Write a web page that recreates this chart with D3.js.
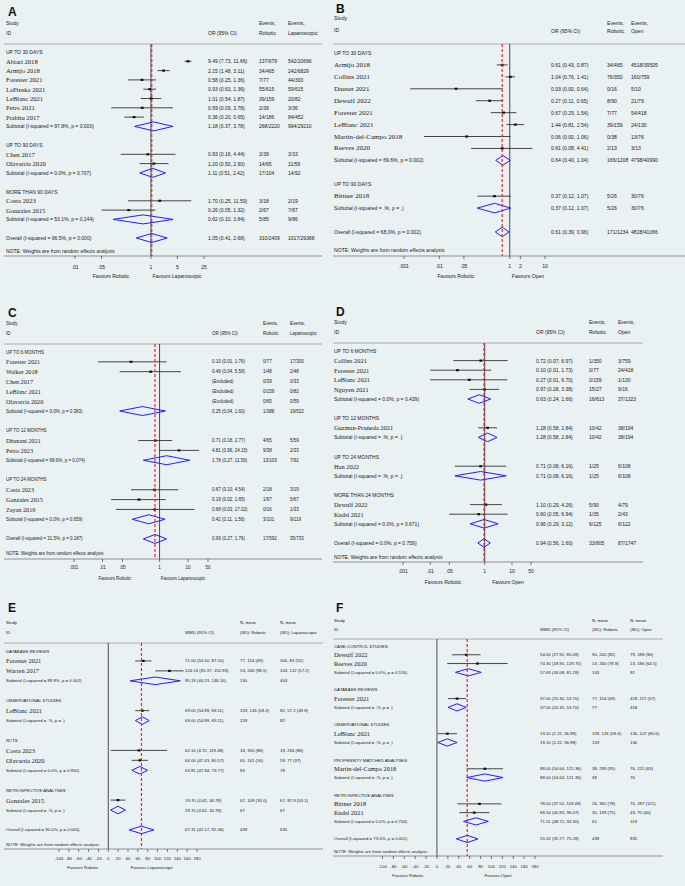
<!DOCTYPE html>
<html>
<head>
<meta charset="utf-8">
<script src="https://cdn.jsdelivr.net/npm/d3@7"></script>
<style>
  body { margin: 0; background: #e9f1f3; }
  svg { display: block; }
</style>
</head>
<body>
<svg id="chart" width="685" height="886"></svg>
<script>
// Row format: [type, label, estimate, lower, upper, column 1, column 2]
// types: g = subgroup heading, s = study, x = excluded study, sub = subtotal, o = overall, b = blank

const rowsA = [
  ["g", "UP TO 30 DAYS"],
  ["s", "Abiari 2018", 9.49, 7.73, 11.66, "137/679", "542/20696"],
  ["s", "Armijo 2018", 2.15, 1.48, 3.11, "34/465", "242/6829"],
  ["s", "Forester 2021", 0.58, 0.25, 1.36, "7/77", "44/300"],
  ["s", "LaPinska 2021", 0.93, 0.63, 1.36, "55/615", "59/615"],
  ["s", "LeBlanc 2021", 1.01, 0.54, 1.87, "39/159", "20/82"],
  ["s", "Petro 2021", 0.59, 0.09, 3.78, "2/39", "3/36"],
  ["s", "Prabhu 2017", 0.36, 0.20, 0.65, "14/186", "84/452"],
  ["sub", "Subtotal  (I-squared = 97.8%, p = 0.000)", 1.18, 0.37, 3.78, "268/2220", "994/29210"],
  ["b"],
  ["g", "UP TO 90 DAYS"],
  ["s", "Chen 2017", 0.83, 0.16, 4.44, "3/39", "3/33"],
  ["s", "Olavarria 2020", 1.20, 0.50, 2.90, "14/65", "11/59"],
  ["sub", "Subtotal  (I-squared = 0.0%, p = 0.707)", 1.11, 0.51, 2.42, "17/104", "14/92"],
  ["b"],
  ["g", "MORE THAN 90 DAYS"],
  ["s", "Costa 2023", 1.70, 0.25, 11.59, "3/18", "2/19"],
  ["s", "Gonzales 2015", 0.26, 0.05, 1.32, "2/67", "7/67"],
  ["sub", "Subtotal  (I-squared = 53.1%, p = 0.144)", 0.62, 0.10, 3.84, "5/85", "9/86"],
  ["b"],
  ["o", "Overall  (I-squared = 96.5%, p = 0.000)", 1.05, 0.41, 2.68, "310/2409", "1017/29388"]
];

const rowsB = [
  ["g", "UP TO 30 DAYS"],
  ["s", "Armijo 2018", 0.61, 0.43, 0.87, "34/465", "4518/39505"],
  ["s", "Collins 2021", 1.04, 0.76, 1.41, "76/350", "160/759"],
  ["s", "Dauser 2021", 0.03, 0.0015, 0.64, "0/16", "5/10"],
  ["s", "Dewulf 2022", 0.27, 0.11, 0.65, "8/90", "21/79"],
  ["s", "Forester 2021", 0.67, 0.29, 1.54, "7/77", "54/418"],
  ["s", "LeBlanc 2021", 1.44, 0.81, 2.54, "39/159", "24/130"],
  ["s", "Martin-del-Campo 2018", 0.06, 0.0037, 1.06, "0/38", "13/76"],
  ["s", "Reeves 2020", 0.61, 0.08, 4.41, "2/13", "3/13"],
  ["sub", "Subtotal  (I-squared = 69.6%, p = 0.002)", 0.64, 0.40, 1.04, "166/1208", "4798/40990"],
  ["b"],
  ["g", "UP TO 90 DAYS"],
  ["s", "Bittner 2018", 0.37, 0.12, 1.07, "5/26", "30/76"],
  ["sub", "Subtotal  (I-squared = .%, p = .)", 0.37, 0.12, 1.07, "5/26", "30/76"],
  ["b"],
  ["o", "Overall  (I-squared = 68.0%, p = 0.002)", 0.61, 0.39, 0.96, "171/1234", "4828/41066"]
];

const rowsC = [
  ["g", "UP TO 6 MONTHS"],
  ["s", "Forester 2021", 0.10, 0.007, 1.76, "0/77", "17/300"],
  ["s", "Walker 2018", 0.49, 0.04, 5.58, "1/48", "2/48"],
  ["x", "Chen 2017", null, null, null, "0/39", "0/33"],
  ["x", "LeBlanc 2021", null, null, null, "0/159", "0/82"],
  ["x", "Olavarria 2020", null, null, null, "0/65", "0/59"],
  ["sub", "Subtotal  (I-squared = 0.0%, p = 0.383)", 0.25, 0.04, 1.60, "1/388", "19/522"],
  ["b"],
  ["g", "UP TO 12 MONTHS"],
  ["s", "Dhanani 2021", 0.71, 0.18, 2.77, "4/65", "5/59"],
  ["s", "Petro 2023", 4.81, 0.96, 24.15, "9/38", "2/33"],
  ["sub", "Subtotal  (I-squared = 68.6%, p = 0.074)", 1.78, 0.27, 11.56, "13/103", "7/92"],
  ["b"],
  ["g", "UP TO 24 MONTHS"],
  ["s", "Costa 2023", 0.67, 0.10, 4.54, "2/18", "3/19"],
  ["s", "Gonzales 2015", 0.19, 0.02, 1.65, "1/67", "5/67"],
  ["s", "Zayan 2019", 0.68, 0.03, 17.02, "0/16", "1/33"],
  ["sub", "Subtotal  (I-squared = 0.0%, p = 0.659)", 0.42, 0.11, 1.56, "3/101", "9/119"],
  ["b"],
  ["o", "Overall  (I-squared = 31.5%, p = 0.187)", 0.69, 0.27, 1.76, "17/592", "35/733"]
];

const rowsD = [
  ["g", "UP TO 6 MONTHS"],
  ["s", "Collins 2021", 0.72, 0.07, 6.97, "1/350", "3/759"],
  ["s", "Forester 2021", 0.10, 0.01, 1.73, "0/77", "24/418"],
  ["s", "LeBlanc 2021", 0.27, 0.01, 6.70, "0/159", "1/130"],
  ["s", "Nguyen 2021", 0.97, 0.28, 3.38, "15/27", "9/16"],
  ["sub", "Subtotal  (I-squared = 0.0%, p = 0.439)", 0.63, 0.24, 1.66, "16/613", "37/1323"],
  ["b"],
  ["g", "UP TO 12 MONTHS"],
  ["s", "Guzman-Pruneda 2021", 1.28, 0.58, 2.84, "10/42", "38/194"],
  ["sub", "Subtotal  (I-squared = .%, p = .)", 1.28, 0.58, 2.84, "10/42", "38/194"],
  ["b"],
  ["g", "UP TO 24 MONTHS"],
  ["s", "Han 2022", 0.71, 0.08, 6.16, "1/25", "6/108"],
  ["sub", "Subtotal  (I-squared = .%, p = .)", 0.71, 0.08, 6.16, "1/25", "6/108"],
  ["b"],
  ["g", "MORE THAN 24 MONTHS"],
  ["s", "Dewulf 2022", 1.10, 0.29, 4.26, "5/90", "4/79"],
  ["s", "Kudsi 2021", 0.60, 0.05, 6.94, "1/35", "2/43"],
  ["sub", "Subtotal  (I-squared = 0.0%, p = 0.671)", 0.96, 0.29, 3.12, "6/125", "6/122"],
  ["b"],
  ["o", "Overall  (I-squared = 0.0%, p = 0.759)", 0.94, 0.56, 1.60, "33/805", "87/1747"]
];

const rowsE = [
  ["g", "DATABASE REVIEWS"],
  ["s", "Forester 2021", 71.00, 54.50, 87.50, "77, 154 (69)", "300, 83 (52)"],
  ["s", "Warren 2017", 124.16, 95.37, 152.83, "53, 246 (98.5)", "103, 122 (57.2)"],
  ["sub", "Subtotal  (I-squared = 89.8%, p = 0.002)", 95.19, 44.23, 146.16, "130", "403"],
  ["b"],
  ["g", "OBSERVATIONAL STUDIES"],
  ["s", "LeBlanc 2021", 69.00, 54.89, 83.11, "159, 126 (58.4)", "82, 57.2 (49.8)"],
  ["sub", "Subtotal  (I-squared = .%, p = .)", 69.00, 54.89, 83.11, "159", "82"],
  ["b"],
  ["g", "RCTS"],
  ["s", "Costa 2023", 62.10, 4.72, 119.48, "18, 356 (88)", "19, 294 (88)"],
  ["s", "Olavarria 2020", 64.00, 47.43, 80.57, "65, 141 (56)", "59, 77 (37)"],
  ["sub", "Subtotal  (I-squared = 0.0%, p = 0.950)", 63.85, 47.94, 79.77, "83", "78"],
  ["b"],
  ["g", "RETROSPECTIVE ANALYSES"],
  ["s", "Gonzales 2015", 19.70, 4.62, 34.78, "67, 108 (33.0)", "67, 87.9 (53.1)"],
  ["sub", "Subtotal  (I-squared = .%, p = .)", 19.70, 4.62, 34.78, "67", "67"],
  ["b"],
  ["o", "Overall  (I-squared = 90.0%, p = 0.000)", 67.31, 42.17, 92.46, "439", "630"]
];

const rowsF = [
  ["g", "CASE-CONTROL STUDIES"],
  ["s", "Dewulf 2022", 54.00, 27.91, 80.09, "90, 242 (82)", "79, 188 (90)"],
  ["s", "Reeves 2020", 74.30, 18.90, 129.70, "13, 260 (78.8)", "13, 186 (64.5)"],
  ["sub", "Subtotal  (I-squared = 0.0%, p = 0.516)", 57.69, 34.08, 81.29, "103", "92"],
  ["b"],
  ["g", "DATABASE REVIEWS"],
  ["s", "Forester 2021", 37.00, 20.30, 53.70, "77, 154 (69)", "418, 117 (67)"],
  ["sub", "Subtotal  (I-squared = .%, p = .)", 37.00, 20.30, 53.70, "77", "418"],
  ["b"],
  ["g", "OBSERVATIONAL STUDIES"],
  ["s", "LeBlanc 2021", 19.10, 1.22, 36.98, "159, 126 (58.4)", "130, 107 (80.6)"],
  ["sub", "Subtotal  (I-squared = .%, p = .)", 19.10, 1.22, 36.98, "159", "130"],
  ["b"],
  ["g", "PROPENSITY MATCHED ANALYSES"],
  ["s", "Martin-del-Campo 2018", 88.00, 54.64, 121.36, "38, 299 (95)", "76, 211 (63)"],
  ["sub", "Subtotal  (I-squared = .%, p = .)", 88.00, 54.64, 121.36, "38", "76"],
  ["b"],
  ["g", "RETROSPECTIVE ANALYSES"],
  ["s", "Bittner 2018", 78.00, 37.52, 118.48, "26, 365 (78)", "76, 287 (121)"],
  ["s", "Kudsi 2021", 68.50, 40.93, 96.07, "35, 139 (75)", "43, 70 (40)"],
  ["sub", "Subtotal  (I-squared = 0.0%, p = 0.704)", 71.51, 48.72, 94.30, "61", "119"],
  ["b"],
  ["o", "Overall  (I-squared = 73.0%, p = 0.001)", 55.52, 35.77, 75.28, "438", "835"]
];

const ticksA = [0.01, 0.05, 1, 5, 25];
const tickLabelsA = [".01", ".05", "1", "5", "25"];
const ticksB = [0.001, 0.01, 0.05, 1, 2, 10];
const tickLabelsB = [".001", ".01", ".05", "1", "2", "10"];
const ticksCD = [0.001, 0.01, 0.05, 1, 10, 50];
const tickLabelsCD = [".001", ".01", ".05", "1", "10", "50"];
const ticksWMD = [-100, -80, -60, -40, -20, 0, 20, 40, 60, 80, 100, 120, 140, 160, 180];
const tickLabelsWMD = ["-100", "-80", "-60", "-40", "-20", "0", "20", "40", "60", "80", "100", "120", "140", "160", "180"];

const SANS = "'Liberation Sans', Arial, sans-serif";
const SERIF = "'Liberation Serif', 'Times New Roman', serif";

const panels = [
  { letter: "A", rows: rowsA, log: true, domain: [0.01, 25], range: [75, 204], ticks: ticksA, tickLabels: tickLabelsA,
    x0: 4, x1: 322, textX: 6, letterY: 16, studyY: 23, idY: 33, colTopY: 23, colBotY: 33,
    estX: 208, c1X: 259, c2X: 288, headLab: ["OR (95% CI)", "Events,", "Robotic", "Events,", "Laparoscopic"],
    headerY: 44, rowTop: 52, step: 9.3, axisY: 256, noteY: 251, tickY: 267, favY: 276,
    favL: ["Favours Robotic", 111], favR: ["Favours Laparoscopic", 177], fs: 5, serifFs: 6.6, dh: 4.5 },
  { letter: "B", rows: rowsB, log: true, domain: [0.001, 10], range: [404, 545], ticks: ticksB, tickLabels: tickLabelsB,
    x0: 333, x1: 685, textX: 334, letterY: 13, studyY: 18, idY: 30, colTopY: 23, colBotY: 31,
    estX: 551, c1X: 607, c2X: 631, headLab: ["OR (95% CI)", "Events,", "Robotic", "Events,", "Open"],
    headerY: 44, rowTop: 53, step: 11.93, axisY: 256, noteY: 250, tickY: 266, favY: 276,
    favL: ["Favours Robotic", 456], favR: ["Favours Open", 528], fs: 5.1, serifFs: 7, dh: 4.8 },
  { letter: "C", rows: rowsC, log: true, domain: [0.001, 50], range: [74, 208], ticks: ticksCD, tickLabels: tickLabelsCD,
    x0: 4, x1: 322, textX: 6, letterY: 317, studyY: 323, idY: 333, colTopY: 323, colBotY: 333,
    estX: 212, c1X: 263, c2X: 290, headLab: ["OR (95% CI)", "Events,", "Robotic", "Events,", "Laparoscopic"],
    headerY: 344, rowTop: 352, step: 9.84, axisY: 559, noteY: 553, tickY: 567, favY: 578,
    favL: ["Favours Robotic", 115], favR: ["Favours Laparoscopic", 183], fs: 4.5, serifFs: 6.2, dh: 4.5 },
  { letter: "D", rows: rowsD, log: true, domain: [0.001, 50], range: [403, 531], ticks: ticksCD, tickLabels: tickLabelsCD,
    x0: 333, x1: 643, textX: 334, letterY: 316, studyY: 322, idY: 332, colTopY: 322, colBotY: 332,
    estX: 536, c1X: 589, c2X: 618, headLab: ["OR (95% CI)", "Events,", "Robotic", "Events,", "Open"],
    headerY: 343, rowTop: 351, step: 9.6, axisY: 562, noteY: 557, tickY: 571, favY: 582,
    favL: ["Favours Robotic", 443], favR: ["Favours Open", 508], fs: 5, serifFs: 6.4, dh: 4.3 },
  { letter: "E", rows: rowsE, log: false, domain: [-100, 180], range: [59, 197], ticks: ticksWMD, tickLabels: tickLabelsWMD,
    x0: 4, x1: 323, textX: 6, letterY: 612, studyY: 622, idY: 632, colTopY: 622, colBotY: 632,
    estX: 185, c1X: 240, c2X: 280, headLab: ["WMD (95% CI)", "N, mean", "(SD); Robotic", "N, mean", "(SD); Laparoscopic"],
    headerY: 643, rowTop: 651, step: 9.94, axisY: 849, noteY: 844, tickY: 858, favY: 867,
    favL: ["Favours Robotic", 83], favR: ["Favours Laparoscopic", 152], fs: 4.3, serifFs: 6.4, dh: 3.8 },
  { letter: "F", rows: rowsF, log: false, domain: [-100, 180], range: [382.5, 535], ticks: ticksWMD, tickLabels: tickLabelsWMD,
    x0: 333, x1: 663, textX: 334, letterY: 612, studyY: 620, idY: 629, colTopY: 620, colBotY: 629,
    estX: 540, c1X: 592, c2X: 630, headLab: ["WMD (95% CI)", "N, mean", "(SD); Robotic", "N, mean", "(SD); Open"],
    headerY: 639, rowTop: 646, step: 8.77, axisY: 856, noteY: 851, tickY: 866, favY: 875,
    favL: ["Favours Robotic", 408], favR: ["Favours Open", 498], fs: 4.3, serifFs: 6.4, dh: 3.6 }
];

const fmt = d3.format(".2f");
const svg = d3.select("#chart");

svg.append("rect").attr("width", 685).attr("height", 886).attr("fill", "#e9f1f3");

function txt(g, x, y, s, size, family, anchor) {
  return g.append("text")
    .attr("x", x)
    .attr("y", y)
    .attr("font-size", size)
    .attr("font-family", family || SANS)
    .attr("text-anchor", anchor || "start")
    .attr("dominant-baseline", "central")
    .attr("fill", "#1a1a1a")
    .text(s);
}

function drawPanel(p) {
  const g = svg.append("g");
  const x = p.log
    ? d3.scaleLog().domain(p.domain).range(p.range)
    : d3.scaleLinear().domain(p.domain).range(p.range);

  // panel letter + column headers
  g.append("text")
    .attr("x", p.textX + 2)
    .attr("y", p.letterY)
    .attr("font-size", 12)
    .attr("font-weight", "bold")
    .attr("font-family", SANS)
    .attr("fill", "#111")
    .text(p.letter);
  txt(g, p.textX, p.studyY, "Study", p.fs);
  txt(g, p.textX, p.idY, "ID", p.fs);
  txt(g, p.estX, p.colBotY, p.headLab[0], p.fs);
  txt(g, p.c1X, p.colTopY, p.headLab[1], p.fs);
  txt(g, p.c1X, p.colBotY, p.headLab[2], p.fs);
  txt(g, p.c2X, p.colTopY, p.headLab[3], p.fs);
  txt(g, p.c2X, p.colBotY, p.headLab[4], p.fs);

  g.append("line")
    .attr("x1", p.x0).attr("x2", p.x1)
    .attr("y1", p.headerY).attr("y2", p.headerY)
    .attr("stroke", "#999").attr("stroke-width", 0.8);

  // null line
  const nullX = p.log ? x(1) : x(0);
  g.append("line")
    .attr("x1", nullX).attr("x2", nullX)
    .attr("y1", p.headerY).attr("y2", p.axisY)
    .attr("stroke", "#222").attr("stroke-width", 0.8);

  // rows
  const rowY = (i) => p.rowTop + i * p.step;
  let overall = null;
  p.rows.forEach((r, i) => {
    const y = rowY(i);
    const type = r[0];
    if (type === "b") return;
    if (type === "g") {
      txt(g, p.textX, y, r[1], p.fs);
      return;
    }
    if (type === "s" || type === "x") {
      txt(g, p.textX, y, r[1], p.serifFs, SERIF);
    } else {
      txt(g, p.textX, y, r[1], p.fs);
    }

    if (type === "s") {
      g.append("line")
        .attr("x1", x(r[3])).attr("x2", x(r[4]))
        .attr("y1", y).attr("y2", y)
        .attr("stroke", "#333").attr("stroke-width", 0.9);
      g.append("rect")
        .attr("x", x(r[2]) - 1.4).attr("y", y - 1.1)
        .attr("width", 2.8).attr("height", 2.2)
        .attr("fill", "#111");
    }
    if (type === "sub" || type === "o") {
      const pts = [
        [x(r[3]), y],
        [x(r[2]), y - p.dh],
        [x(r[4]), y],
        [x(r[2]), y + p.dh]
      ];
      g.append("path")
        .attr("d", d3.line()(pts) + "Z")
        .attr("fill", "none")
        .attr("stroke", "#1f1fff")
        .attr("stroke-width", 1);
      if (type === "o") overall = r[2];
    }

    const ci = type === "x" ? "(Excluded)" : `${fmt(r[2])} (${fmt(r[3])}, ${fmt(r[4])})`;
    txt(g, p.estX, y, ci, p.fs);
    txt(g, p.c1X, y, r[5], p.fs);
    txt(g, p.c2X, y, r[6], p.fs);
  });

  // overall effect line
  g.append("line")
    .attr("x1", x(overall)).attr("x2", x(overall))
    .attr("y1", p.headerY).attr("y2", p.axisY)
    .attr("stroke", "#e8262c").attr("stroke-width", 1.2)
    .attr("stroke-dasharray", "3,2");

  txt(g, p.textX, p.noteY, "NOTE: Weights are from random effects analysis", p.fs);

  // x axis
  g.append("line")
    .attr("x1", p.x0).attr("x2", p.x1)
    .attr("y1", p.axisY).attr("y2", p.axisY)
    .attr("stroke", "#777").attr("stroke-width", 0.8);
  p.ticks.forEach((t, i) => {
    g.append("line")
      .attr("x1", x(t)).attr("x2", x(t))
      .attr("y1", p.axisY).attr("y2", p.axisY + 3)
      .attr("stroke", "#444").attr("stroke-width", 0.7);
    txt(g, x(t), p.tickY, p.tickLabels[i], p.fs, SANS, "middle");
  });
  txt(g, p.favL[1], p.favY, p.favL[0], p.fs, SANS, "middle");
  txt(g, p.favR[1], p.favY, p.favR[0], p.fs, SANS, "middle");
}

panels.forEach(drawPanel);
</script>
</body>
</html>
